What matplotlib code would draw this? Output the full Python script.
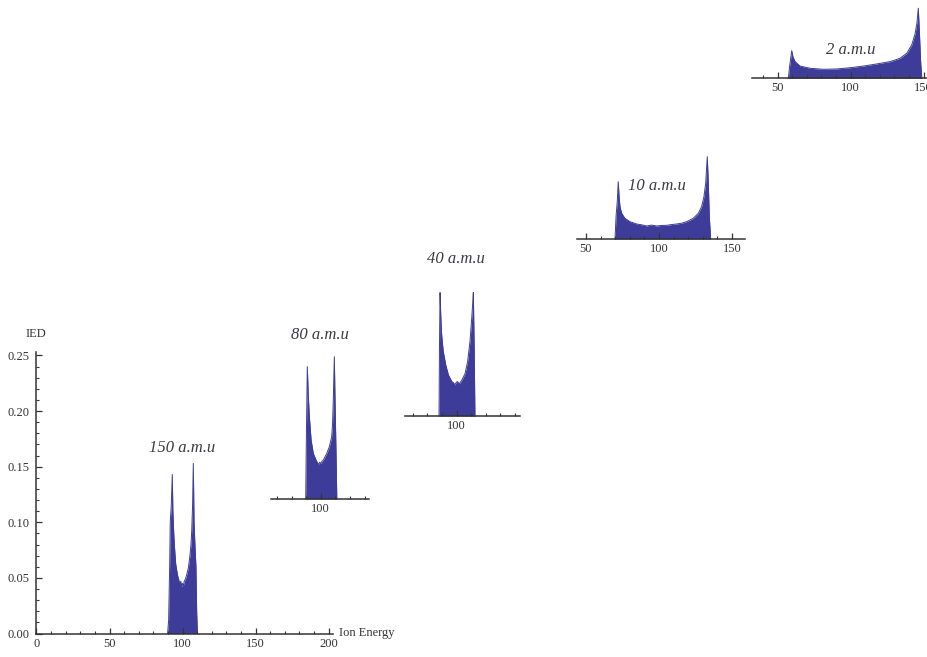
import matplotlib
matplotlib.use("Agg")
import matplotlib.pyplot as plt
from matplotlib.ticker import MultipleLocator, FormatStrFormatter

# ---------------- data ----------------
# 150 a.m.u (main plot)
e150 = [89.8, 90.5, 91.2, 91.6, 92.3, 93.0, 93.4, 94.0, 94.5, 95.3, 96.0, 96.7, 97.5,
        98.3, 98.8, 99.4, 100.0, 100.6, 101.2, 102.0, 102.9, 104.0, 105.1, 105.8,
        106.3, 106.9, 107.4, 107.9, 108.5, 109.2, 109.7, 110.2]
v150 = [0.0, 0.012, 0.06, 0.10, 0.115, 0.143, 0.11, 0.09, 0.078, 0.063, 0.057, 0.052, 0.048,
        0.044, 0.047, 0.042, 0.045, 0.043, 0.047, 0.049, 0.053, 0.059, 0.070, 0.080,
        0.092, 0.115, 0.153, 0.10, 0.08, 0.06, 0.02, 0.0]

# 80 a.m.u
e80 = [89.7, 90.2, 90.8, 91.4, 92.2, 93.4, 94.9, 96.8, 97.6, 98.4, 99.2, 100.0, 100.9,
       101.8, 104.1, 105.9, 107.5, 108.1, 108.6, 109.3, 109.9, 110.5, 111.0]
v80 = [0.0, 0.06, 0.119, 0.095, 0.074, 0.053, 0.041, 0.035, 0.033, 0.031, 0.033, 0.032, 0.034,
       0.035, 0.041, 0.047, 0.056, 0.068, 0.089, 0.128, 0.08, 0.04, 0.0]

# 40 a.m.u
e40 = [87.9, 88.2, 88.6, 89.1, 89.7, 90.8, 92.5, 94.3, 96.6, 97.7, 98.8, 99.6, 100.4,
       101.8, 103.4, 105.7, 107.5, 109.1, 110.3, 110.9, 111.4, 112.0, 112.5]
v40 = [0.0, 0.06, 0.111, 0.09, 0.073, 0.058, 0.046, 0.037, 0.031, 0.030, 0.028, 0.030, 0.031,
       0.029, 0.032, 0.038, 0.049, 0.067, 0.088, 0.10, 0.111, 0.06, 0.0]

# 10 a.m.u
e10 = [69.9, 70.6, 71.5, 72.1, 72.7, 73.3, 74.5, 76.7, 80.1, 84.7, 88.0, 91.6, 95.0, 98.4,
       101.8, 105.3, 108.7, 112.1, 115.5, 119.0, 123.5, 126.9, 129.2, 130.8, 132.0,
       133.1, 133.8, 134.5, 135.4]
v10 = [0.0, 0.02, 0.035, 0.0515, 0.038, 0.029, 0.023, 0.0186, 0.0156, 0.0135, 0.0128, 0.0117,
       0.0125, 0.0117, 0.0122, 0.0123, 0.0130, 0.0135, 0.0142, 0.0156, 0.0186, 0.023, 0.029,
       0.038, 0.050, 0.074, 0.05, 0.02, 0.0]

# 2 a.m.u
e2 = [57.4, 58.2, 59.0, 59.7, 60.6, 62.0, 65.4, 72.3, 81.4, 90.5, 99.7, 108.8, 117.9,
      127.1, 133.9, 138.5, 141.9, 144.2, 145.5, 146.4, 147.2, 148.0, 148.8]
v2 = [0.0, 0.010, 0.018, 0.0248, 0.019, 0.015, 0.011, 0.009, 0.0081, 0.0084, 0.0095, 0.011,
      0.0129, 0.015, 0.018, 0.0225, 0.030, 0.040, 0.050, 0.063, 0.04, 0.015, 0.0]

labels = ["150 a.m.u", "80 a.m.u", "40 a.m.u", "10 a.m.u", "2 a.m.u"]
xlabel = "Ion Energy"
ylabel = "IED"

# ---------------- style / layout ----------------
W, H = 928, 657
DPI = 100
SX = 1.46      # pixels per energy unit
SY = 1112.0    # pixels per IED unit
FILL = "#3d3d99"
AX = "#333333"
FONT = "Liberation Serif"

plt.rcParams["font.family"] = [FONT, "DejaVu Serif"]

fig = plt.figure(figsize=(W / DPI, H / DPI), dpi=DPI)


def px_axes(x0_px, base_px, xmin, xmax, ymax):
    width = (xmax - xmin) * SX
    height = ymax * SY
    ax = fig.add_axes([x0_px / W, (H - base_px) / H, width / W, height / H])
    ax.set_xlim(xmin, xmax)
    ax.set_ylim(0, ymax)
    ax.patch.set_alpha(0)
    for s in ("top", "right"):
        ax.spines[s].set_visible(False)
    ax.spines["bottom"].set_color(AX)
    ax.spines["bottom"].set_linewidth(1.1)
    ax.spines["left"].set_color(AX)
    ax.spines["left"].set_linewidth(1.1)
    ax.xaxis.set_major_locator(MultipleLocator(50))
    ax.xaxis.set_minor_locator(MultipleLocator(10))
    ax.tick_params(axis="both", which="major", direction="in", length=4.5, width=0.9,
                   color=AX, labelsize=9, labelcolor=AX, pad=3)
    ax.tick_params(axis="both", which="minor", direction="in", length=2.5, width=0.8,
                   color=AX)
    return ax


def draw(ax, e, v):
    ax.fill_between(e, 0, v, color=FILL, lw=0, clip_on=False, zorder=1)
    ax.plot(e, v, color=FILL, lw=0.7, clip_on=False, zorder=1)
    ax.set_axisbelow(False)


# main axes
ax0 = px_axes(36.5, 633.5, 0, 203, 0.253)
ax0.yaxis.set_major_locator(MultipleLocator(0.05))
ax0.yaxis.set_minor_locator(MultipleLocator(0.01))
ax0.yaxis.set_major_formatter(FormatStrFormatter("%.2f"))
ax0.tick_params(axis="y", which="major", pad=5)
draw(ax0, e150, v150)

# insets (same scale, shifted)
insets = [
    (271.1, 499.0, 66.0, 133.1, 0.13, e80, v80),
    (405.0, 416.0, 64.6, 143.4, 0.112, e40, v40),
    (576.9, 239.0, 43.8, 158.9, 0.075, e10, v10),
    (752.0, 78.3, 32.5, 160.0, 0.064, e2, v2),
]
for x0, base, xmin, xmax, ymax, e, v in insets:
    ax = px_axes(x0, base, xmin, xmax, ymax)
    ax.spines["left"].set_visible(False)
    ax.set_yticks([])
    draw(ax, e, v)

# axis labels
fig.text(36 / W, 1 - 334 / H, ylabel, ha="center", va="center", fontsize=9, color=AX)
fig.text(339 / W, 1 - 633 / H, xlabel, ha="left", va="center", fontsize=9, color=AX)

# mass labels
label_pos = [(182, 448), (320, 335), (456, 259), (657, 186), (851, 50)]
for txt, (x, y) in zip(labels, label_pos):
    fig.text(x / W, 1 - y / H, txt, ha="center", va="center", fontsize=12,
             style="italic", color="#3a3a44")

fig.savefig("out.png", dpi=DPI)
